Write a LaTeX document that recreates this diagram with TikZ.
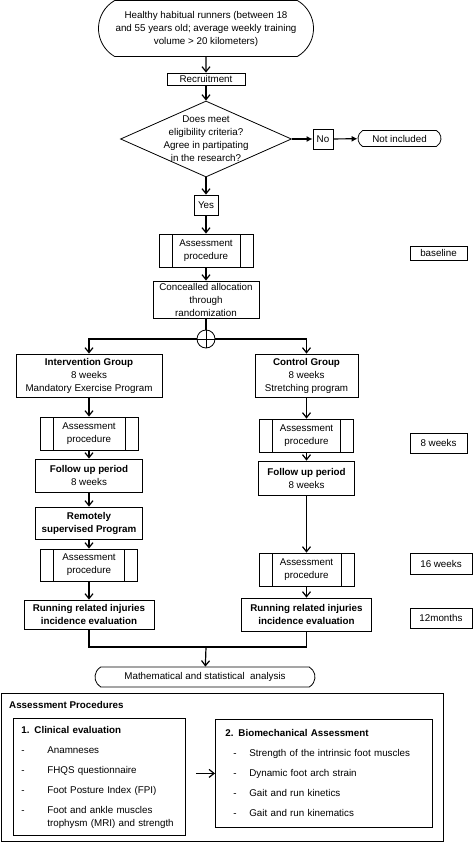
\documentclass[tikz,border=0pt]{standalone}
\usepackage{fontspec}
\setmainfont{Liberation Sans}
\usetikzlibrary{shapes.geometric}
\usetikzlibrary{shapes.misc}
\usetikzlibrary{arrows.meta}

\begin{document}
\begin{tikzpicture}[x=1pt,y=-1pt,font=\fontsize{9.8}{13}\selectfont,
	box/.style={rectangle,draw,line width=0.8pt,align=center,inner sep=0pt},
	proc/.style={box,path picture={\draw[line width=0.8pt] ([xshift=13pt]path picture bounding box.north west)--([xshift=13pt]path picture bounding box.south west) ([xshift=-13pt]path picture bounding box.north east)--([xshift=-13pt]path picture bounding box.south east);}},
	term/.style={rounded rectangle,rounded rectangle arc length=120,draw,line width=0.8pt,align=center,inner sep=0pt},
	flow/.style={-{Straight Barb[length=5pt,width=8pt]},line width=1.2pt},
	side/.style={-{Latex[length=6pt,width=6pt]},line width=1.2pt}]
	\def\m{206}	%main column
	\def\l{89}	%left column
	\def\r{306.5}	%right column
	\useasboundingbox (0,0) rectangle (473,842);
	
	%TOP
	\node[term,minimum width=215,minimum height=56] (start) at (\m,28.5) {Healthy habitual runners (between 18\\and 55 years old; average weekly training\\volume > 20 kilometers)};
	\node[box,minimum width=78,minimum height=12] (recruit) at (\m,79) {Recruitment};
	\node[diamond,draw,line width=0.8pt,aspect=2.25,minimum width=171,minimum height=76,inner xsep=-12pt,inner ysep=-8pt,align=center] (elig) at (\m,139) {Does meet\\eligibility criteria?\\Agree in partipating\\in the research?};
	\node[box,minimum width=20,minimum height=20] (no) at (323,139) {No};
	\node[term,minimum width=83,minimum height=16] (notinc) at (399.5,138.5) {Not included};
	\node[box,minimum width=24,minimum height=20] (yes) at (\m,205) {Yes};
	%
	\draw[flow] (start) -- (recruit);
	\draw[flow] (recruit) -- (elig);
	\draw[side] (elig) -- (no);
	\draw[side] (no) -- (notinc);
	\draw[flow] (elig) -- (yes);
	
	%BASELINE
	\node[proc,minimum width=94,minimum height=33] (assess0) at (\m,250.5) {Assessment\\procedure};
	\node[box,minimum width=106,minimum height=37] (alloc) at (\m,299.5) {Concealled allocation\\through\\randomization};
	\node[circle,draw,line width=0.8pt,minimum size=18,inner sep=0pt,path picture={\draw[line width=0.8pt] (path picture bounding box.north)--(path picture bounding box.south) (path picture bounding box.west)--(path picture bounding box.east);}] (split) at (\m,339) {};
	%
	\draw[flow] (yes) -- (assess0);
	\draw[flow] (assess0) -- (alloc);
	\draw[line width=1.2pt] (alloc) -- (split);
	
	%LEFT
	\node[box,minimum width=146,minimum height=43] (interv) at (\l,375.5) {\textbf{Intervention Group}\\8 weeks\\Mandatory Exercise Program};
	\node[proc,minimum width=98,minimum height=33] (assessL1) at (\l,433.5) {Assessment\\procedure};
	\node[box,minimum width=107,minimum height=33] (followL) at (\l,475.5) {\textbf{Follow up period}\\8 weeks};
	\node[box,minimum width=107,minimum height=32] (remote) at (\l,523) {\textbf{Remotely}\\\textbf{supervised Program}};
	\node[proc,minimum width=97,minimum height=32] (assessL2) at (\l,565) {Assessment\\procedure};
	\node[box,minimum width=130,minimum height=29] (runL) at (\l,614.5) {\textbf{Running related injuries}\\\textbf{incidence evaluation}};
	%
	\draw[flow] (split) -| (interv);
	\draw[flow] (interv) -- (assessL1);
	\draw[flow] (assessL1) -- (followL);
	\draw[flow] (followL) -- (remote);
	\draw[flow] (remote) -- (assessL2);
	\draw[flow] (assessL2) -- (runL);
	
	%RIGHT
	\node[box,minimum width=103,minimum height=43] (ctrl) at (\r,375.5) {\textbf{Control Group}\\8 weeks\\Stretching program};
	\node[proc,minimum width=94,minimum height=33] (assessR1) at (\r,435.5) {Assessment\\procedure};
	\node[box,minimum width=96,minimum height=34] (followR) at (\r,478) {\textbf{Follow up period}\\8 weeks};
	\node[proc,minimum width=95,minimum height=33] (assessR2) at (\r,569.5) {Assessment\\procedure};
	\node[box,minimum width=130,minimum height=33] (runR) at (\r,614.5) {\textbf{Running related injuries}\\\textbf{incidence evaluation}};
	%
	\draw[flow] (split) -| (ctrl);
	\draw[flow] (ctrl) -- (assessR1);
	\draw[flow] (assessR1) -- (followR);
	\draw[flow] (followR) -- (assessR2);
	\draw[flow] (assessR2) -- (runR);
	
	%TIME POINTS
	\node[box,minimum width=57,minimum height=14] (tbase) at (438.5,253) {baseline};
	\node[box,minimum width=57,minimum height=20] (t8) at (438.5,443) {8 weeks};
	\node[box,minimum width=62,minimum height=21] (t16) at (441,563.5) {16 weeks};
	\node[box,minimum width=62,minimum height=20] (t12) at (441,618) {12months};
	
	%BOTTOM
	\coordinate (merge) at (\m,647);
	\node[term,minimum width=220,minimum height=20] (math) at (205,677) {Mathematical and statistical\ \ analysis};
	\draw[line width=1.2pt] (runL) |- (merge) -| (runR);
	\draw[flow] (merge) -- (math);
	
	%assessment procedures
	\node[box,anchor=north west,minimum width=442,minimum height=148] (proc) at (0.5,693) {};
	\node[anchor=west,inner sep=0pt] (proctitle) at (9,705) {\textbf{Assessment Procedures}};
	\node[box,anchor=north west,minimum width=172,minimum height=117,text width=156,inner xsep=8pt,align=left] (clin) at (13,718) {%
		\begin{tabular}{@{}l@{\hspace{22.7pt}}l@{}}
			\multicolumn{2}{@{}l@{}}{\textbf{1. Clinical evaluation}}\\[7pt]
			- & Anamneses\\[7pt]
			- & FHQS questionnaire\\[7pt]
			- & Foot Posture Index (FPI)\\[7pt]
			- & Foot and ankle muscles\\
			  & trophysm (MRI) and strength
		\end{tabular}};
	\node[box,anchor=north west,minimum width=217,minimum height=108,text width=197,inner xsep=10pt,align=left] (bio) at (215,719) {%
		\begin{tabular}{@{\hspace{8pt}}l@{\hspace{12.7pt}}l@{}}
			\multicolumn{2}{@{}l@{}}{\textbf{2. Biomechanical Assessment}}\\[7pt]
			- & Strength of the intrinsic foot muscles\\[7pt]
			- & Dynamic foot arch strain\\[7pt]
			- & Gait and run kinetics\\[7pt]
			- & Gait and run kinematics
		\end{tabular}};
	\draw[flow,shorten <=10pt] (clin.east |- bio) -- (bio);
\end{tikzpicture}
\end{document}
